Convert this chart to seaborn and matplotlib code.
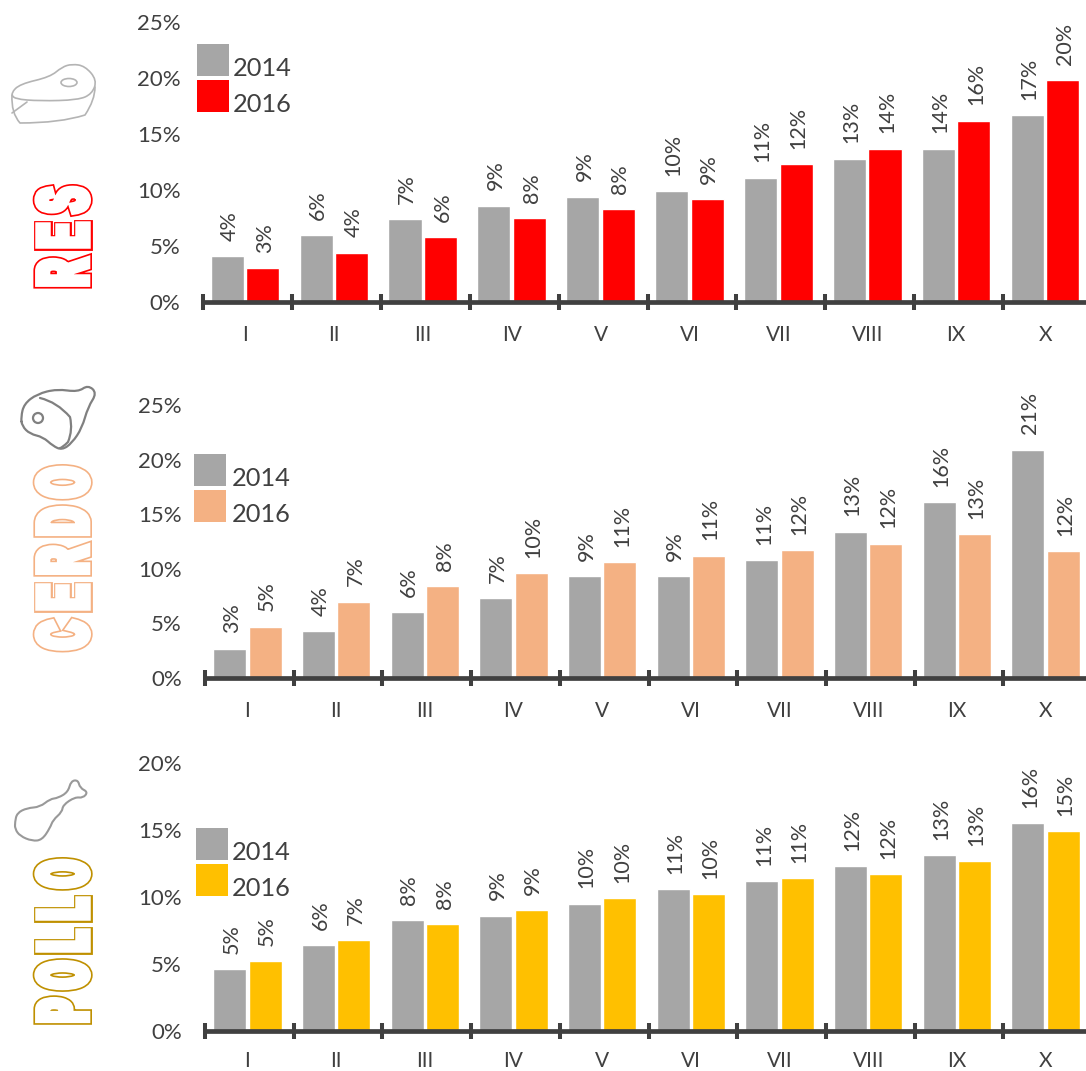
import numpy as np
import pandas as pd
import seaborn as sns
import matplotlib.pyplot as plt
from matplotlib.colors import to_rgba
from matplotlib.patches import Circle, Ellipse, PathPatch, Rectangle
from matplotlib.path import Path
from matplotlib.patheffects import AbstractPathEffect
from matplotlib.transforms import Affine2D

W, H = 1086, 1071

deciles = ["I", "II", "III", "IV", "V", "VI", "VII", "VIII", "IX", "X"]
years = ["2014", "2016"]

res_2014 = [4.1, 6.0, 7.4, 8.6, 9.4, 9.9, 11.1, 12.8, 13.7, 16.7]
res_2016 = [3.0, 4.4, 5.8, 7.5, 8.3, 9.2, 12.3, 13.7, 16.2, 19.8]
cerdo_2014 = [2.7, 4.3, 6.0, 7.3, 9.3, 9.3, 10.8, 13.4, 16.1, 20.9]
cerdo_2016 = [4.7, 7.0, 8.4, 9.6, 10.6, 11.2, 11.7, 12.3, 13.2, 11.6]
pollo_2014 = [4.6, 6.4, 8.3, 8.6, 9.5, 10.6, 11.2, 12.3, 13.1, 15.5]
pollo_2016 = [5.2, 6.8, 8.0, 9.0, 9.9, 10.2, 11.4, 11.7, 12.7, 14.9]

GRAY = "#A6A6A6"
TEXT = "#404040"
AXIS = "#404040"
INNER_LW = 5.4
OUTER_LW = 7.8
GROW = OUTER_LW * 100 / 72 / 2  # pixels the stroke adds on each side


class OutlineLetters(AbstractPathEffect):
    # fits the letters into a given length with a fixed gap, drawn as an outline
    def __init__(self, length, color, gap=2.0):
        super().__init__()
        self.length, self.color, self.gap = length, color, gap

    def draw_path(self, renderer, gc, tpath, affine, rgbFace=None):
        a, b = affine.get_matrix()[:2, 0]
        unit = np.hypot(a, b)
        starts = np.flatnonzero(tpath.codes == Path.MOVETO)
        parts = [Path(v, c) for v, c in zip(np.split(tpath.vertices, starts[1:]),
                                            np.split(tpath.codes, starts[1:]))]
        parts.sort(key=lambda p: p.vertices[:, 0].min())
        # a contour that starts inside the previous one is a counter of the same letter
        glyphs = []
        for p in parts:
            x0, x1 = p.vertices[:, 0].min(), p.vertices[:, 0].max()
            if glyphs and x0 < glyphs[-1][2]:
                glyphs[-1][0].append(p)
                glyphs[-1][2] = max(glyphs[-1][2], x1)
            else:
                glyphs.append([[p], x0, x1])
        n = len(glyphs)
        free = (self.length - 2 * n * GROW - (n - 1) * self.gap) / unit
        sx = free / sum(g[2] - g[1] for g in glyphs)
        cursor = 0.0
        for paths, x0, x1 in glyphs:
            path = Path.make_compound_path(*paths)
            aff = Affine2D().translate(-x0, 0).scale(sx, 1).translate(cursor, 0) + affine
            for c, lw in ((self.color, OUTER_LW), ("white", INNER_LW)):
                gc0 = renderer.new_gc()
                gc0.copy_properties(gc)
                gc0.set_foreground(c)
                gc0.set_linewidth(lw)
                gc0.set_joinstyle("miter")
                renderer.draw_path(gc0, path, aff, to_rgba(c))
                gc0.restore()
            cursor += (x1 - x0) * sx + (2 * GROW + self.gap) / unit


def smooth(points):
    # closed quadratic spline through the midpoints of the outline
    pts = np.array(points, float)
    mids = (pts + np.roll(pts, -1, axis=0)) / 2
    verts, codes = [mids[-1]], [Path.MOVETO]
    for p, m in zip(pts, mids):
        verts += [p, m]
        codes += [Path.CURVE3, Path.CURVE3]
    return Path(verts, codes)


def open_smooth(points):
    codes = [Path.MOVETO] + [Path.CURVE3] * (len(points) - 1)
    if len(points) % 2 == 0:
        codes[-1] = Path.LINETO
    return Path(points, codes)


def panel(left, tick0, bottom, top, step, v14, v16, color, ymax, yticks, xpad=16.5, ypad=15.1):
    ax = fig.add_axes([left / W, 1 - bottom / H, (W - left) / W, (bottom - top) / H])
    df = pd.DataFrame({
        "decil": deciles * 2,
        "anio": [years[0]] * 10 + [years[1]] * 10,
        "pct": v14 + v16,
    })
    sns.barplot(data=df, x="decil", y="pct", hue="anio", palette=[GRAY, color],
                width=0.8, gap=0.07, saturation=1, legend=False, ax=ax)
    for cont in ax.containers:
        labels = ax.bar_label(cont, fmt="%.0f%%", rotation=90, padding=11, fontsize=15.5, color=TEXT)
        for t in labels:
            t.xyann = (t.xyann[0] + 1.5, t.xyann[1])

    xmax = -0.5 + (W - left) / step
    first = -0.5 + (tick0 - left) / step
    ax.set_xlim(-0.5, xmax)
    ax.set_ylim(0, ymax)
    ax.set_yticks(yticks)
    ax.set_yticklabels([f"{t}%" for t in yticks])
    ax.set_xlabel("")
    ax.set_ylabel("")
    ax.set_xticks(first + np.arange(10), minor=True)
    ax.tick_params(axis="x", which="major", length=0, pad=xpad, labelsize=15, labelcolor=TEXT)
    ax.tick_params(axis="x", which="minor", bottom=True, length=11.5, width=2.9,
                   direction="inout", color=AXIS)
    ax.tick_params(axis="y", length=0, pad=ypad, labelsize=16, labelcolor=TEXT)
    for s in ["top", "left", "right"]:
        ax.spines[s].set_visible(False)
    ax.spines["bottom"].set_linewidth(3.4)
    ax.spines["bottom"].set_color(AXIS)
    ax.spines["bottom"].set_bounds(first, xmax)
    ax.patch.set_alpha(0)
    return ax


sns.set_style("white")
plt.rcParams["font.family"] = ["Lato", "DejaVu Sans"]

fig = plt.figure(figsize=(W / 100, H / 100), dpi=100)

panel(200.5, 203, 302, 22, 88.9, res_2014, res_2016, "#FF0000", 25, [0, 5, 10, 15, 20, 25], ypad=14.4)
panel(203, 205, 678, 405, 88.7, cerdo_2014, cerdo_2016, "#F4B183", 25, [0, 5, 10, 15, 20, 25])
panel(203, 205, 1031, 763, 88.7, pollo_2014, pollo_2016, "#FFC000", 20, [0, 5, 10, 15, 20], xpad=14.5)

# overlay in pixel coordinates for legends, icons and the rotated names
ov = fig.add_axes([0, 0, 1, 1])
ov.set_xlim(0, W)
ov.set_ylim(H, 0)
ov.axis("off")
ov.patch.set_alpha(0)

legends = [(197, 44, 233, 67, "#FF0000"), (194, 454, 232, 477, "#F4B183"), (196, 828, 232, 851, "#FFC000")]
for x, y, tx, ty, c in legends:
    ov.add_patch(Rectangle((x, y), 32, 32, color=GRAY, lw=0))
    ov.add_patch(Rectangle((x, y + 36), 32, 32, color=c, lw=0))
    ov.text(tx, ty + 2, years[0], fontsize=18.3, color=TEXT, va="center")
    ov.text(tx, ty + 38, years[1], fontsize=18.3, color=TEXT, va="center")

names = [("RES", 291, 107, "#FF0000"), ("CERDO", 654, 190, "#F4B183"), ("POLLO", 1027, 170, "#BF9000")]
for name, y, length, c in names:
    ov.text(92 - GROW, y - GROW, name, rotation=90, rotation_mode="anchor", ha="left", va="baseline",
            fontsize=50, fontweight="bold", family="Liberation Sans",
            path_effects=[OutlineLetters(length, c)])

# icons
line = {"fill": False, "capstyle": "round", "joinstyle": "round"}
steak = {"ec": "#B4B4B4", "lw": 1.2, **line}
ov.add_patch(PathPatch(smooth([(11, 93), (20, 84), (50, 77), (62, 67), (72, 64), (85, 66), (97, 80),
                               (92, 94), (78, 100), (40, 101), (14, 99)]), **steak))
ov.add_patch(PathPatch(open_smooth([(12, 95), (11, 113), (20, 123), (60, 123), (85, 115), (95, 100), (95, 87)]), **steak))
ov.add_patch(PathPatch(Path([(12, 113), (27, 102)]), **steak))
ov.add_patch(Ellipse((69, 82.5), 16, 8, **steak))

ham = {"ec": "#808080", "lw": 1.6, **line}
ham_outline = [(21, 417), (24, 404), (37, 394), (57, 389), (78, 392), (88, 385), (97, 393), (88, 407),
               (82, 428), (72, 443), (62, 450), (53, 446), (43, 437), (30, 434), (22, 426)]
ov.add_patch(PathPatch(smooth(ham_outline), **ham))
ov.add_patch(PathPatch(open_smooth([(40, 398), (57, 402), (70, 417), (73, 430), (68, 442), (62, 448), (60, 448)]), **ham))
ov.add_patch(Circle((38, 418), 5, **ham))

leg = {"ec": "#999999", "lw": 1.5, **line}
leg_outline = [(15, 822), (17, 813), (27, 808), (40, 807), (50, 799), (58, 798), (68, 792), (71, 781),
               (78, 780), (80, 788), (88, 792), (83, 798), (75, 797), (63, 805), (62, 812), (53, 820),
               (50, 828), (42, 840), (32, 841), (20, 836), (15, 829)]
ov.add_patch(PathPatch(smooth(leg_outline), **leg))

fig.savefig("out.png", dpi=100)
